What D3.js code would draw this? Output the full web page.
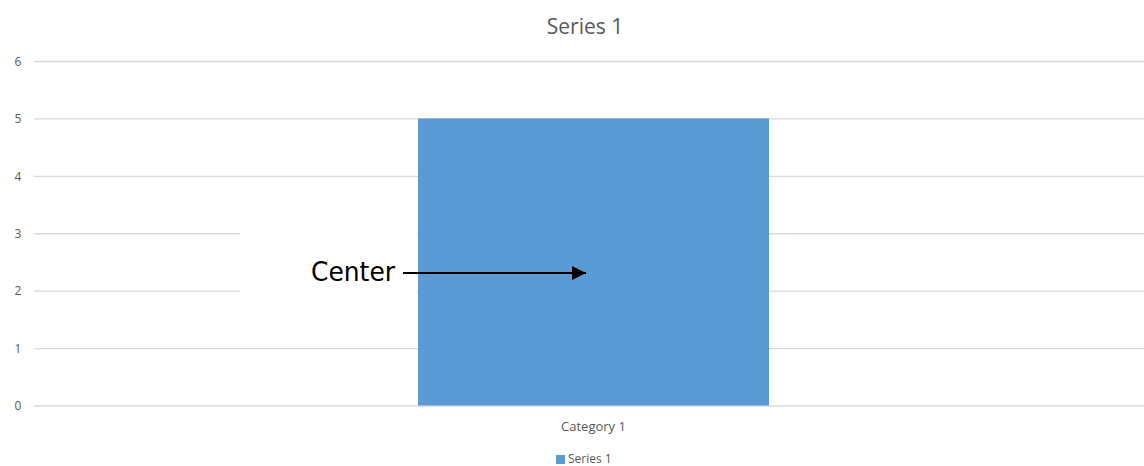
<!DOCTYPE html>
<html><head><meta charset="utf-8">
<script src="https://cdn.jsdelivr.net/npm/d3@7"></script>
<style>body{margin:0;background:#fff}svg{display:block}</style>
</head><body>
<svg id="c" width="1144" height="466"></svg>
<script>
const categories = ["Category 1"];
const seriesName = "Series 1";
const values = [5];
const yTicks = [0, 1, 2, 3, 4, 5, 6];
const annotationText = "Center";

const svg = d3.select("#c");
const W = 1144, H = 466;
const font = "'Open Sans', 'Liberation Sans', sans-serif";
const x = d3.scaleBand().domain(categories).range([34, 1153]).paddingInner(0).paddingOuter(1.094);
const y = d3.scaleLinear().domain([0, 6]).range([405.5, 61]);

// gridlines via axis
const grid = svg.append("g").attr("transform", "translate(34,0)")
  .call(d3.axisRight(y).tickValues(yTicks).tickSize(W - 34).tickFormat(""));
grid.select(".domain").remove();
grid.selectAll("line").attr("stroke", "#d9d9d9").attr("stroke-width", 1.3);

// y labels
const yl = svg.append("g").attr("transform", "translate(18,0)")
  .call(d3.axisLeft(y).tickValues(yTicks).tickSize(0).tickPadding(0).tickFormat(d3.format("d")));
yl.select(".domain").remove();
yl.selectAll("text").attr("font-family", font).attr("font-size", 12).attr("fill", "#595959")
  .attr("text-anchor", "middle").attr("dy", "0.35em");

// bars
svg.append("g").selectAll("rect").data(values).join("rect")
  .attr("x", (d, i) => x(categories[i]))
  .attr("width", x.bandwidth())
  .attr("y", d => y(d))
  .attr("height", d => y(0) - y(d))
  .attr("fill", "#5b9bd5");

// category axis labels
const xl = svg.append("g").attr("transform", `translate(0,${y(0)})`)
  .call(d3.axisBottom(x).tickSize(0).tickPadding(16));
xl.select(".domain").remove();
xl.selectAll("text").attr("font-family", font).attr("font-size", 13).attr("fill", "#595959");

// title
svg.append("text").attr("x", 585).attr("y", 34).attr("text-anchor", "middle")
  .attr("font-family", font).attr("font-size", 21).attr("fill", "#595959").text(seriesName);

// legend
const lg = svg.append("g");
lg.append("rect").attr("x", 556).attr("y", 455).attr("width", 9).attr("height", 9).attr("fill", "#5b9bd5");
lg.append("text").attr("x", 568).attr("y", 463).attr("font-family", font).attr("font-size", 12)
  .attr("fill", "#595959").text(seriesName);

// annotation box (white) + arrow
const bx = x(categories[0]);
svg.append("rect").attr("x", 240).attr("y", 222).attr("width", bx - 1 - 240).attr("height", 80).attr("fill", "#fff");
svg.append("text").attr("x", 311).attr("y", 281)
  .attr("font-family", "'DejaVu Sans Condensed', 'DejaVu Sans', sans-serif").attr("font-size", 27)
  .attr("textLength", 84).attr("lengthAdjust", "spacingAndGlyphs")
  .attr("fill", "#000").text(annotationText);
svg.append("defs").append("marker").attr("id", "ah").attr("viewBox", "0 0 10 10")
  .attr("refX", 10).attr("refY", 5).attr("markerWidth", 8).attr("markerHeight", 7)
  .attr("markerUnits", "strokeWidth").attr("orient", "auto")
  .append("path").attr("d", "M0,0 L10,5 L0,10 Z").attr("fill", "#000");
svg.append("line").attr("x1", 403).attr("x2", 586).attr("y1", 273).attr("y2", 273)
  .attr("stroke", "#000").attr("stroke-width", 2).attr("marker-end", "url(#ah)");
</script>
</body></html>
